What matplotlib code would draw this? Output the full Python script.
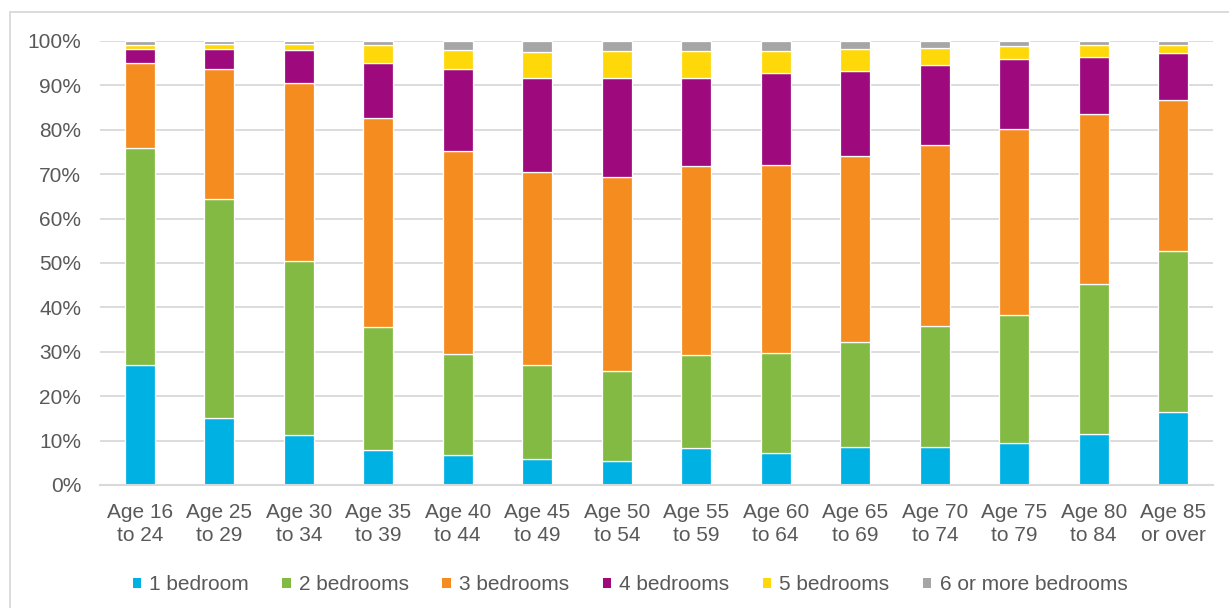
import numpy as np
import matplotlib
matplotlib.use("Agg")
import matplotlib.pyplot as plt
from matplotlib.patches import Patch, Rectangle
from matplotlib.ticker import PercentFormatter

categories = ["Age 16\nto 24", "Age 25\nto 29", "Age 30\nto 34", "Age 35\nto 39",
              "Age 40\nto 44", "Age 45\nto 49", "Age 50\nto 54", "Age 55\nto 59",
              "Age 60\nto 64", "Age 65\nto 69", "Age 70\nto 74", "Age 75\nto 79",
              "Age 80\nto 84", "Age 85\nor over"]

# share of households (%) by number of bedrooms
bed1 = [27.1, 15.2, 11.3, 7.9, 6.7, 5.9, 5.4, 8.3, 7.1, 8.6, 8.6, 9.5, 11.5, 16.4]
bed2 = [48.9, 49.3, 39.2, 27.6, 22.8, 21.2, 20.3, 21.0, 22.6, 23.7, 27.3, 28.7, 33.7, 36.4]
bed3 = [19.0, 29.2, 40.1, 47.1, 45.8, 43.4, 43.6, 42.5, 42.4, 41.8, 40.6, 42.0, 38.3, 33.8]
bed4 = [3.3, 4.4, 7.4, 12.4, 18.4, 21.1, 22.3, 19.8, 20.6, 19.2, 18.0, 15.8, 13.0, 10.7]
bed5 = [0.8, 1.3, 1.4, 4.0, 4.3, 5.9, 6.1, 6.1, 5.0, 4.9, 4.0, 2.9, 2.5, 1.8]
bed6 = [0.9, 0.6, 0.6, 1.0, 2.0, 2.5, 2.3, 2.3, 2.3, 1.8, 1.5, 1.1, 1.0, 0.9]

series_names = ["1 bedroom", "2 bedrooms", "3 bedrooms", "4 bedrooms",
                "5 bedrooms", "6 or more bedrooms"]
colors = ["#00B2E3", "#82BA44", "#F58C20", "#9E0A7E", "#FFD80A", "#A6A6A6"]

plt.rcParams["font.family"] = ["Liberation Sans", "DejaVu Sans"]
text_color = "#595959"
grid_color = "#D9D9D9"

fig = plt.figure(figsize=(12.29, 6.08), dpi=100)
ax = fig.add_axes([100 / 1229, 123 / 608, 1113 / 1229, 444 / 608])

x = np.arange(len(categories))
bottom = np.zeros(len(categories))
for vals, name, col in zip([bed1, bed2, bed3, bed4, bed5, bed6], series_names, colors):
    vals = np.array(vals)
    ax.bar(x, vals, 0.38, bottom=bottom, color=col, edgecolor="white",
           linewidth=0.9, label=name, zorder=2)
    bottom += vals

ax.set_xlim(-0.5, len(categories) - 0.5)
ax.set_ylim(0, 100)
ax.set_yticks(np.arange(0, 101, 10))
ax.yaxis.set_major_formatter(PercentFormatter(decimals=0))
ax.set_xticks(x)
ax.set_xticklabels(categories, linespacing=1.25)
ax.grid(True, axis="y", color=grid_color, linewidth=1.3, zorder=0)
ax.set_axisbelow(True)

for s in ["top", "right", "left"]:
    ax.spines[s].set_visible(False)
ax.spines["bottom"].set_color(grid_color)
ax.spines["bottom"].set_linewidth(1.5)

ax.tick_params(axis="y", length=0, pad=13.5, labelsize=15, labelcolor=text_color)
ax.tick_params(axis="x", length=0, pad=13, labelsize=15, labelcolor=text_color)

handles = [Patch(facecolor=c, edgecolor="none") for c in colors]
fig.legend(handles, series_names, loc="center", bbox_to_anchor=(630 / 1229, 23 / 608),
           ncol=6, frameon=False, fontsize=15, labelcolor=text_color,
           handlelength=0.4, handleheight=0.4, handletextpad=0.4, columnspacing=1.6)

# chart area border (Excel style)
fig.patches.append(Rectangle((10 / 1229, -0.1), 1.2, 596 / 608 + 0.1,
                             transform=fig.transFigure, fill=False,
                             edgecolor=grid_color, linewidth=1.3))

fig.savefig("out.png", dpi=100)
